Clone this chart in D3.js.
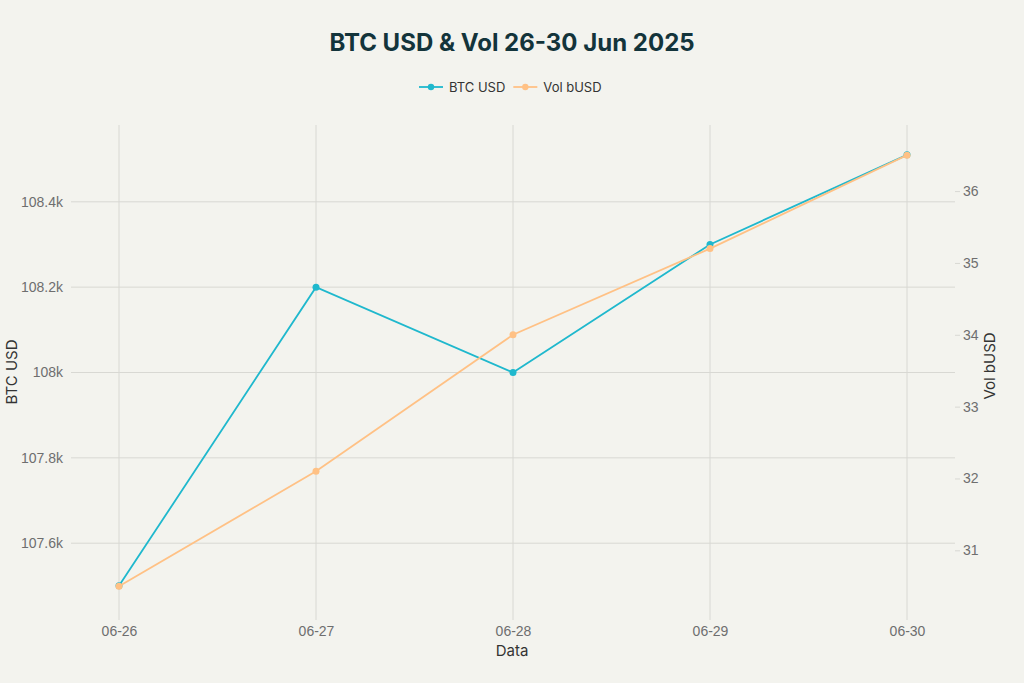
<!DOCTYPE html>
<html>
<head>
<meta charset="utf-8">
<script src="https://cdn.jsdelivr.net/npm/d3@7"></script>
<style>
  html, body { margin: 0; padding: 0; background: #F3F3EE; }
  svg { display: block; font-family: Inter, "Noto Sans", sans-serif; }
</style>
</head>
<body>
<script>
// chart data
const dates = ['06-26', '06-27', '06-28', '06-29', '06-30'];
const btcUsd = [107500, 108200, 108000, 108300, 108510];
const volBusd = [30.5, 32.1, 34.0, 35.2, 36.5];
const btcTicks = [107600, 107800, 108000, 108200, 108400];
const volTicks = [31, 32, 33, 34, 35, 36];

const width = 1024, height = 683;
const plot = { left: 71, right: 955, top: 125, bottom: 620 };
const colors = { btc: '#1FB8CD', vol: '#FFC185' };

const svg = d3.select('body').append('svg')
    .attr('width', width).attr('height', height);

svg.append('rect').attr('width', width).attr('height', height).attr('fill', '#F3F3EE');

// scales
const x = d3.scalePoint().domain(dates).range([119, 907]);
const yL = d3.scaleLinear().domain([107420, 108580]).range([plot.bottom, plot.top]);
const yR = d3.scaleLinear().domain([30.03, 36.92]).range([plot.bottom, plot.top]);

// grid
const grid = svg.append('g');
grid.selectAll('.vg').data(dates).join('line')
    .attr('x1', d => x(d)).attr('x2', d => x(d))
    .attr('y1', plot.top).attr('y2', plot.bottom)
    .attr('stroke', '#D8D8D3').attr('stroke-width', 1);
grid.selectAll('.hg').data(btcTicks).join('line')
    .attr('x1', plot.left).attr('x2', plot.right)
    .attr('y1', d => yL(d)).attr('y2', d => yL(d))
    .attr('stroke', '#D8D8D3').attr('stroke-width', 1);

// left axis
const fmtK = d => (d / 1000).toString() + 'k';
const axL = svg.append('g').attr('transform', `translate(${plot.left},0)`)
    .call(d3.axisLeft(yL).tickValues(btcTicks).tickFormat(fmtK).tickSize(0).tickPadding(8));
axL.select('.domain').remove();
axL.selectAll('text').attr('fill', '#6E6E6E').style('font-size', '14px');

// right axis
const axR = svg.append('g').attr('transform', `translate(${plot.right},0)`)
    .call(d3.axisRight(yR).tickValues(volTicks).tickFormat(d3.format('d')).tickSize(5).tickPadding(3));
axR.select('.domain').remove();
axR.selectAll('line').attr('stroke', '#D8D8D3');
axR.selectAll('text').attr('fill', '#6E6E6E').style('font-size', '14px');

// bottom axis
const axB = svg.append('g').attr('transform', `translate(0,${plot.bottom})`)
    .call(d3.axisBottom(x).tickSize(0).tickPadding(6));
axB.select('.domain').remove();
axB.selectAll('text').attr('fill', '#6E6E6E').style('font-size', '14px');

// axis titles
svg.append('text').attr('x', 512).attr('y', 656).attr('text-anchor', 'middle')
    .attr('fill', '#333').style('font-size', '15px').text('Data');
svg.append('text').attr('transform', `translate(17,372) rotate(-90)`)
    .attr('text-anchor', 'middle').attr('fill', '#333').style('font-size', '15px').text('BTC USD');
svg.append('text').attr('transform', `translate(995,366) rotate(-90)`)
    .attr('text-anchor', 'middle').attr('fill', '#333').style('font-size', '15px').text('Vol bUSD');

// series (vol drawn after btc, so it sits on top like the original)
const series = [
    { name: 'BTC USD', values: btcUsd, y: yL, color: colors.btc },
    { name: 'Vol bUSD', values: volBusd, y: yR, color: colors.vol }
];

series.forEach(s => {
    const line = d3.line().x((d, i) => x(dates[i])).y(d => s.y(d));
    svg.append('path').datum(s.values)
        .attr('d', line).attr('fill', 'none')
        .attr('stroke', s.color).attr('stroke-width', 1.8);
    svg.append('g').selectAll('circle').data(s.values).join('circle')
        .attr('cx', (d, i) => x(dates[i])).attr('cy', d => s.y(d))
        .attr('r', 3.5).attr('fill', s.color);
});

// title
svg.append('text').attr('x', 512).attr('y', 51).attr('text-anchor', 'middle')
    .attr('fill', '#13343B').style('font-size', '24px').style('font-weight', 700)
    .text('BTC USD & Vol 26-30 Jun 2025');

// legend
const legend = svg.append('g').attr('transform', 'translate(419,87)');
let lx = 0;
series.forEach(s => {
    const g = legend.append('g').attr('transform', `translate(${lx},0)`);
    g.append('line').attr('x1', 0).attr('x2', 24).attr('y1', 0).attr('y2', 0)
        .attr('stroke', s.color).attr('stroke-width', 1.8);
    g.append('circle').attr('cx', 12).attr('cy', 0).attr('r', 3.2).attr('fill', s.color);
    const t = g.append('text').attr('x', 30).attr('y', 4.5)
        .attr('fill', '#333').style('font-size', '13px').text(s.name);
    lx += 30 + t.node().getComputedTextLength() + 8;
});
</script>
</body>
</html>
